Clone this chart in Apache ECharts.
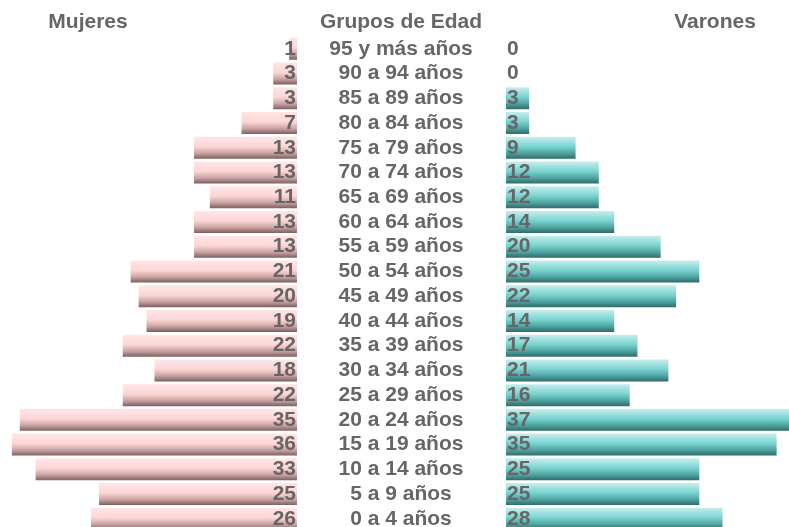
<!DOCTYPE html>
<html>
<head>
<meta charset="utf-8">
<script src="https://cdn.jsdelivr.net/npm/echarts@6/dist/echarts.min.js"></script>
<style>
html,body{margin:0;padding:0;background:#fff;overflow:hidden;}
#c{width:789px;height:540px;}
</style>
</head>
<body>
<div id="c"></div>
<script>
var categories = ["95 y más años","90 a 94 años","85 a 89 años","80 a 84 años","75 a 79 años","70 a 74 años","65 a 69 años","60 a 64 años","55 a 59 años","50 a 54 años","45 a 49 años","40 a 44 años","35 a 39 años","30 a 34 años","25 a 29 años","20 a 24 años","15 a 19 años","10 a 14 años","5 a 9 años","0 a 4 años"];
var mujeres = [1,3,3,7,13,13,11,13,13,21,20,19,22,18,22,35,36,33,25,26];
var varones = [0,0,3,3,9,12,12,14,20,25,22,14,17,21,16,37,35,25,25,28];

var FONT = "'Liberation Sans', Arial, sans-serif";
var TXT = '#666666';
var chart = echarts.init(document.getElementById('c'), null, {renderer: 'canvas'});

var pink = new echarts.graphic.LinearGradient(0,0,0,1,[
  {offset:0,color:'#ffe6e6'},{offset:0.45,color:'#fdd6d6'},{offset:0.75,color:'#c9a3a3'},{offset:1,color:'#7d5f5f'}
]);
var teal = new echarts.graphic.LinearGradient(0,0,0,1,[
  {offset:0,color:'#c6eeee'},{offset:0.45,color:'#78d3cf'},{offset:0.75,color:'#4fa3a0'},{offset:1,color:'#2f6b6b'}
]);

var labelStyle = {show:true, color:TXT, fontFamily:FONT, fontWeight:'bold', fontSize:21};

chart.setOption({
  animation:false,
  backgroundColor:'#ffffff',
  graphic:[
    {type:'text', x:88, y:22, style:{text:'Mujeres', fill:TXT, font:'bold 21px '+FONT, textAlign:'center', textVerticalAlign:'middle'}},
    {type:'text', x:401, y:22, style:{text:'Grupos de Edad', fill:TXT, font:'bold 21px '+FONT, textAlign:'center', textVerticalAlign:'middle'}},
    {type:'text', x:715, y:22, style:{text:'Varones', fill:TXT, font:'bold 21px '+FONT, textAlign:'center', textVerticalAlign:'middle'}}
  ],
  grid:[
    {left:0, width:297, top:36.4, height:494.8},
    {left:506, width:283, top:36.4, height:494.8}
  ],
  xAxis:[
    {gridIndex:0, type:'value', min:0, max:37.5, inverse:true, show:false},
    {gridIndex:1, type:'value', min:0, max:36.6, show:false}
  ],
  yAxis:[
    {gridIndex:0, type:'category', data:categories, inverse:true, position:'right',
     axisLine:{show:false}, axisTick:{show:false}, axisLabel:{show:false}},
    {gridIndex:1, type:'category', data:categories, inverse:true, position:'left',
     axisLine:{show:false}, axisTick:{show:false},
     axisLabel:{show:true, interval:0, align:'center', margin:105, color:TXT, fontFamily:FONT, fontWeight:'bold', fontSize:21}}
  ],
  series:[
    {type:'bar', name:'Mujeres', xAxisIndex:0, yAxisIndex:0, data:mujeres, barWidth:22,
     itemStyle:{color:pink},
     label:Object.assign({position:'insideRight', distance:1}, labelStyle)},
    {type:'bar', name:'Varones', xAxisIndex:1, yAxisIndex:1, data:varones, barWidth:22,
     itemStyle:{color:teal},
     label:Object.assign({position:'insideLeft', distance:1}, labelStyle)}
  ]
});
</script>
</body>
</html>
